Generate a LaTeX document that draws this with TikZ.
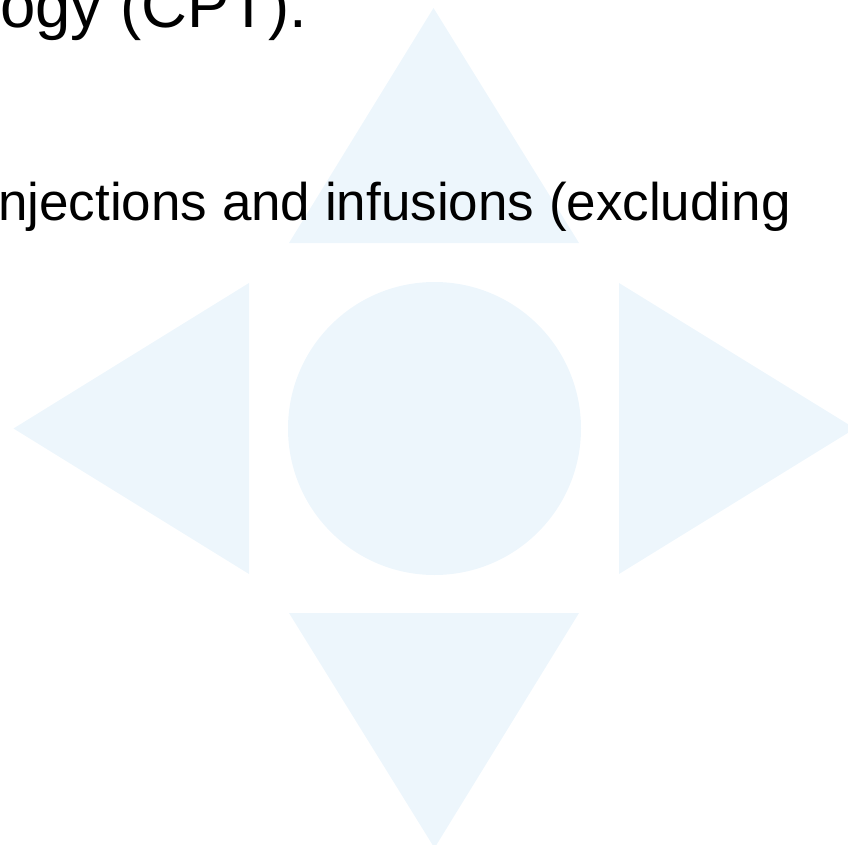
\documentclass[tikz,border=0pt]{standalone}
\usepackage{fontspec}
\setmainfont{Liberation Sans}
\usetikzlibrary{positioning}
\definecolor{paleblue}{RGB}{237,246,252}

\begin{document}
\begin{tikzpicture}[x=1pt,y=-1pt,
  bluepart/.style={fill=paleblue},
  slidetext/.style={inner sep=0pt,anchor=base west,text=black}]
 \useasboundingbox (0,0) rectangle (848,845);
 \clip (0,0) rectangle (848,845);
 % background motif
 \coordinate (c) at (434.5,428.5);
 \fill[bluepart] (c) circle (146.5pt);
 \fill[bluepart] (433.5,8) -- (289,243) -- (579,243) -- cycle;
 \fill[bluepart] (434.5,848) -- (289,613) -- (579,613) -- cycle;
 \fill[bluepart] (13.5,428.5) -- (249,283) -- (249,574) -- cycle;
 \fill[bluepart] (855,428.5) -- (619,283) -- (619,574) -- cycle;
 % text lines
 \node[slidetext,font=\fontsize{63.5}{70}\selectfont] (line1) at (0,28) {ogy (CPT).};
 \node[slidetext,font=\fontsize{53}{60}\selectfont] (line2) at (-2,220) {njections and infusions (excluding};
\end{tikzpicture}
\end{document}
